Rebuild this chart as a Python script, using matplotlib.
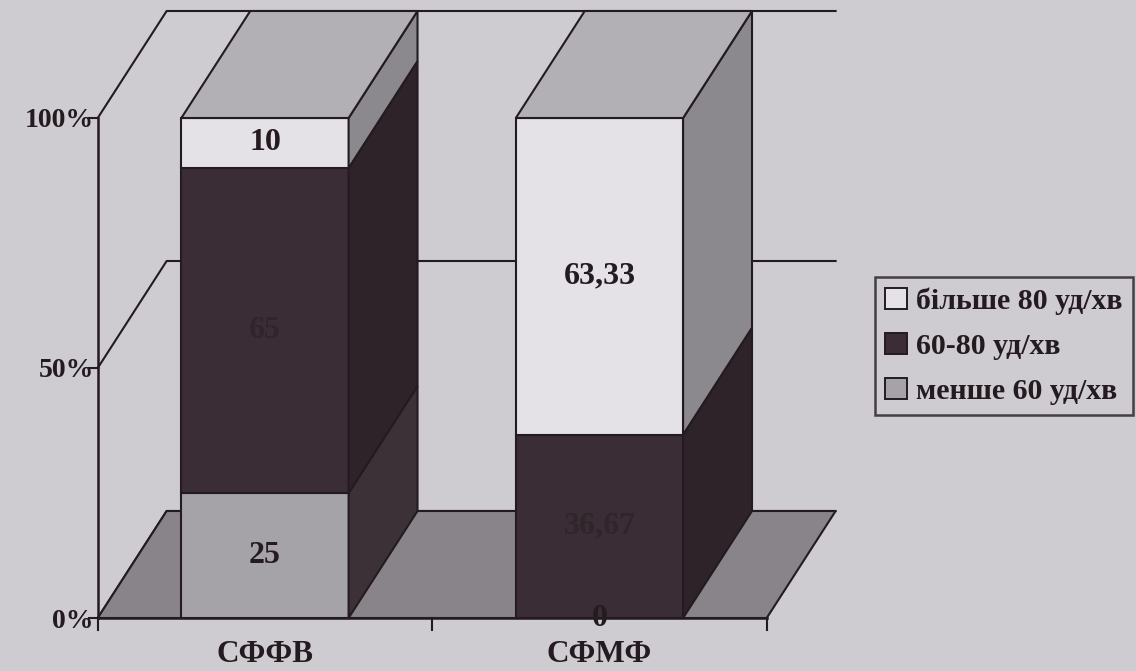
import matplotlib
matplotlib.use("Agg")
import matplotlib.pyplot as plt
from matplotlib.patches import Polygon, Patch

# ---- data -------------------------------------------------------------
categories = ["СФФВ", "СФМФ"]
series_names = ["більше 80 уд/хв", "60-80 уд/хв", "менше 60 уд/хв"]
below_60 = [25, 0]
from_60_to_80 = [65, 36.67]
above_80 = [10, 63.33]
y_ticks = [0, 50, 100]
y_tick_labels = ["0%", "50%", "100%"]

# ---- style ------------------------------------------------------------
BG = "#cecbd1"
EDGE = "#241b20"
FRONT = {"below": "#a6a3a8", "mid": "#3a2d35", "above": "#e4e2e6"}
SIDE = {"below": "#3b3137", "mid": "#2e2329", "above": "#8c898e"}
TOP = "#b3b0b5"
FLOOR = "#888489"
FONT = "Liberation Serif"

bar_w = 0.5        # bar width in category units
dx, dy = 0.206, 21.4  # oblique depth offset (x units, percent units)
lw = 1.5

fig = plt.figure(figsize=(11.36, 6.71), dpi=100, facecolor=BG)
ax = fig.add_axes([0, 0, 1, 1])
ax.set_facecolor(BG)
ax.set_xlim(-0.7922, 2.604)
ax.set_ylim(-10.6, 123.6)
ax.axis("off")

x_left, x_right = -0.5, 1.5

# back wall grid lines and left wall edges
for yv in y_ticks:
    ax.plot([x_left, x_left + dx, x_right + dx], [yv, yv + dy, yv + dy],
            color=EDGE, lw=lw, zorder=1)

# floor
ax.add_patch(Polygon([(x_left, 0), (x_right, 0), (x_right + dx, dy), (x_left + dx, dy)],
                     closed=True, facecolor=FLOOR, edgecolor=EDGE, lw=lw, zorder=2))

# stacked 3-D bars
stack_order = [("below", below_60), ("mid", from_60_to_80), ("above", above_80)]
for i, cat in enumerate(categories):
    x0, x1 = i - bar_w / 2, i + bar_w / 2
    base = 0.0
    for key, vals in stack_order:
        v = vals[i]
        if v <= 0:
            continue
        top = base + v
        ax.add_patch(Polygon([(x0, base), (x1, base), (x1, top), (x0, top)],
                             closed=True, facecolor=FRONT[key], edgecolor=EDGE, lw=lw, zorder=3))
        ax.add_patch(Polygon([(x1, base), (x1 + dx, base + dy), (x1 + dx, top + dy), (x1, top)],
                             closed=True, facecolor=SIDE[key], edgecolor=EDGE, lw=lw, zorder=3))
        base = top
    ax.add_patch(Polygon([(x0, base), (x1, base), (x1 + dx, base + dy), (x0 + dx, base + dy)],
                         closed=True, facecolor=TOP, edgecolor=EDGE, lw=lw, zorder=3))

# value labels
def fmt(v):
    s = f"{v:.2f}".rstrip("0").rstrip(".")
    return s.replace(".", ",")

label_colors = {"below": EDGE, "mid": "#30252b", "above": EDGE}
for i in range(len(categories)):
    base = 0.0
    for key, vals in stack_order:
        v = vals[i]
        ax.text(i, base + v / 2, fmt(v), ha="center", va="center",
                fontsize=23, fontweight="bold", family=FONT,
                color=label_colors[key], zorder=6)
        base += v

# axes lines and ticks
ax.plot([x_left, x_left], [0, 100], color=EDGE, lw=lw + 0.3, zorder=5)
ax.plot([x_left, x_right], [0, 0], color=EDGE, lw=lw + 0.3, zorder=5)
for yv, lab in zip(y_ticks, y_tick_labels):
    ax.plot([x_left - 0.025, x_left], [yv, yv], color=EDGE, lw=lw, zorder=5)
    ax.text(x_left - 0.012, yv - 0.6, lab, ha="right", va="center", fontsize=20,
            fontweight="bold", family=FONT, color=EDGE)
for xt in [x_left, 0.5, x_right]:
    ax.plot([xt, xt], [0, -2.4], color=EDGE, lw=lw, zorder=5)
for i, cat in enumerate(categories):
    ax.text(i, -7.4, cat, ha="center", va="center", fontsize=22.5,
            fontweight="bold", family=FONT, color=EDGE)

# legend
handles = [Patch(facecolor=FRONT["above"], edgecolor=EDGE, lw=1.4),
           Patch(facecolor=FRONT["mid"], edgecolor=EDGE, lw=1.4),
           Patch(facecolor=FRONT["below"], edgecolor=EDGE, lw=1.4)]
leg = ax.legend(handles, series_names, loc="upper left",
                bbox_to_anchor=(875 / 1136, 1 - 277 / 671), bbox_transform=fig.transFigure,
                prop={"family": FONT, "weight": "bold", "size": 21.5},
                frameon=True, fancybox=False, edgecolor=EDGE, facecolor=BG,
                handlelength=0.72, handleheight=0.72, handletextpad=0.3,
                labelspacing=0.6, borderpad=0.35, borderaxespad=0)
leg.get_frame().set_linewidth(1.8)
for t in leg.get_texts():
    t.set_color(EDGE)

fig.savefig("out.png", dpi=100, facecolor=BG)
